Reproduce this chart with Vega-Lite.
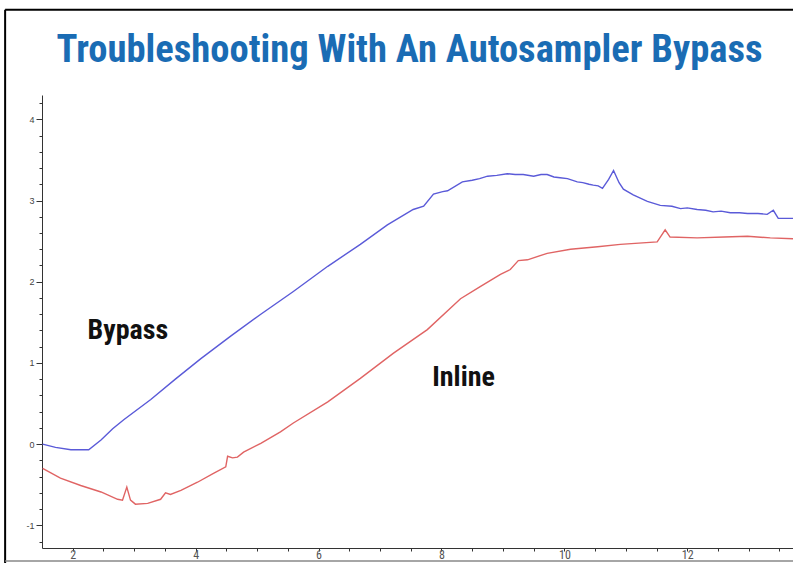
{
  "$schema": "https://vega.github.io/schema/vega-lite/v6.json",
  "width": 751,
  "height": 453,
  "autosize": {"type": "none"},
  "padding": {"left": 42, "top": 95, "right": 0, "bottom": 15},
  "background": "white",
  "config": {
    "view": {"stroke": null},
    "axis": {"grid": false, "domainColor": "#333", "tickColor": "#333", "labelColor": "#444", "labelFont": "Liberation Sans", "labelFontSize": 9, "title": null}
  },
  "title": {
    "text": "Troubleshooting With An Autosampler Bypass",
    "font": "Roboto Condensed",
    "fontWeight": "bold",
    "fontSize": 38.6,
    "color": "#1a6cb4",
    "anchor": "middle",
    "baseline": "alphabetic",
    "dx": -8,
    "offset": -92
  },
  "datasets": {
    "traces": [
      {"series": "Bypass", "time": 1.51, "value": 0.0},
      {"series": "Bypass", "time": 1.72, "value": -0.04},
      {"series": "Bypass", "time": 1.97, "value": -0.07},
      {"series": "Bypass", "time": 2.26, "value": -0.07},
      {"series": "Bypass", "time": 2.46, "value": 0.05},
      {"series": "Bypass", "time": 2.65, "value": 0.19},
      {"series": "Bypass", "time": 2.83, "value": 0.3},
      {"series": "Bypass", "time": 3.27, "value": 0.55},
      {"series": "Bypass", "time": 3.67, "value": 0.8},
      {"series": "Bypass", "time": 4.08, "value": 1.05},
      {"series": "Bypass", "time": 4.57, "value": 1.33},
      {"series": "Bypass", "time": 5.06, "value": 1.6},
      {"series": "Bypass", "time": 5.59, "value": 1.88},
      {"series": "Bypass", "time": 6.15, "value": 2.19},
      {"series": "Bypass", "time": 6.68, "value": 2.46},
      {"series": "Bypass", "time": 7.12, "value": 2.7},
      {"series": "Bypass", "time": 7.54, "value": 2.89},
      {"series": "Bypass", "time": 7.71, "value": 2.93},
      {"series": "Bypass", "time": 7.87, "value": 3.08},
      {"series": "Bypass", "time": 8.02, "value": 3.11},
      {"series": "Bypass", "time": 8.1, "value": 3.12},
      {"series": "Bypass", "time": 8.34, "value": 3.23},
      {"series": "Bypass", "time": 8.5, "value": 3.25},
      {"series": "Bypass", "time": 8.62, "value": 3.27},
      {"series": "Bypass", "time": 8.75, "value": 3.3},
      {"series": "Bypass", "time": 8.9, "value": 3.31},
      {"series": "Bypass", "time": 9.07, "value": 3.33},
      {"series": "Bypass", "time": 9.2, "value": 3.32},
      {"series": "Bypass", "time": 9.33, "value": 3.32},
      {"series": "Bypass", "time": 9.5, "value": 3.3},
      {"series": "Bypass", "time": 9.62, "value": 3.32},
      {"series": "Bypass", "time": 9.72, "value": 3.32},
      {"series": "Bypass", "time": 9.83, "value": 3.29},
      {"series": "Bypass", "time": 9.93, "value": 3.28},
      {"series": "Bypass", "time": 10.05, "value": 3.27},
      {"series": "Bypass", "time": 10.21, "value": 3.23},
      {"series": "Bypass", "time": 10.3, "value": 3.22},
      {"series": "Bypass", "time": 10.4, "value": 3.2},
      {"series": "Bypass", "time": 10.47, "value": 3.19},
      {"series": "Bypass", "time": 10.55, "value": 3.18},
      {"series": "Bypass", "time": 10.62, "value": 3.15},
      {"series": "Bypass", "time": 10.72, "value": 3.26},
      {"series": "Bypass", "time": 10.8, "value": 3.37},
      {"series": "Bypass", "time": 10.89, "value": 3.22},
      {"series": "Bypass", "time": 10.96, "value": 3.14},
      {"series": "Bypass", "time": 11.12, "value": 3.07},
      {"series": "Bypass", "time": 11.35, "value": 2.99},
      {"series": "Bypass", "time": 11.56, "value": 2.94},
      {"series": "Bypass", "time": 11.75, "value": 2.93},
      {"series": "Bypass", "time": 11.89, "value": 2.9},
      {"series": "Bypass", "time": 12.0, "value": 2.91},
      {"series": "Bypass", "time": 12.16, "value": 2.89},
      {"series": "Bypass", "time": 12.3, "value": 2.88},
      {"series": "Bypass", "time": 12.42, "value": 2.86},
      {"series": "Bypass", "time": 12.55, "value": 2.87},
      {"series": "Bypass", "time": 12.7, "value": 2.85},
      {"series": "Bypass", "time": 12.85, "value": 2.85},
      {"series": "Bypass", "time": 12.98, "value": 2.84},
      {"series": "Bypass", "time": 13.15, "value": 2.84},
      {"series": "Bypass", "time": 13.3, "value": 2.83},
      {"series": "Bypass", "time": 13.4, "value": 2.88},
      {"series": "Bypass", "time": 13.48, "value": 2.78},
      {"series": "Bypass", "time": 13.72, "value": 2.78},
      {"series": "Inline", "time": 1.51, "value": -0.3},
      {"series": "Inline", "time": 1.8, "value": -0.42},
      {"series": "Inline", "time": 2.13, "value": -0.51},
      {"series": "Inline", "time": 2.46, "value": -0.59},
      {"series": "Inline", "time": 2.73, "value": -0.68},
      {"series": "Inline", "time": 2.81, "value": -0.69},
      {"series": "Inline", "time": 2.88, "value": -0.53},
      {"series": "Inline", "time": 2.94, "value": -0.69},
      {"series": "Inline", "time": 3.02, "value": -0.74},
      {"series": "Inline", "time": 3.22, "value": -0.73},
      {"series": "Inline", "time": 3.43, "value": -0.68},
      {"series": "Inline", "time": 3.51, "value": -0.6},
      {"series": "Inline", "time": 3.59, "value": -0.62},
      {"series": "Inline", "time": 3.76, "value": -0.57},
      {"series": "Inline", "time": 4.03, "value": -0.47},
      {"series": "Inline", "time": 4.29, "value": -0.36},
      {"series": "Inline", "time": 4.49, "value": -0.28},
      {"series": "Inline", "time": 4.52, "value": -0.15},
      {"series": "Inline", "time": 4.6, "value": -0.17},
      {"series": "Inline", "time": 4.68, "value": -0.16},
      {"series": "Inline", "time": 4.78, "value": -0.1},
      {"series": "Inline", "time": 5.06, "value": 0.01},
      {"series": "Inline", "time": 5.38, "value": 0.15},
      {"series": "Inline", "time": 5.59, "value": 0.26},
      {"series": "Inline", "time": 6.15, "value": 0.52},
      {"series": "Inline", "time": 6.68, "value": 0.81},
      {"series": "Inline", "time": 7.22, "value": 1.12},
      {"series": "Inline", "time": 7.77, "value": 1.41},
      {"series": "Inline", "time": 8.31, "value": 1.79},
      {"series": "Inline", "time": 8.63, "value": 1.94},
      {"series": "Inline", "time": 8.96, "value": 2.09},
      {"series": "Inline", "time": 9.12, "value": 2.15},
      {"series": "Inline", "time": 9.25, "value": 2.26},
      {"series": "Inline", "time": 9.4, "value": 2.27},
      {"series": "Inline", "time": 9.72, "value": 2.35},
      {"series": "Inline", "time": 10.1, "value": 2.4},
      {"series": "Inline", "time": 10.54, "value": 2.43},
      {"series": "Inline", "time": 10.91, "value": 2.46},
      {"series": "Inline", "time": 11.51, "value": 2.49},
      {"series": "Inline", "time": 11.58, "value": 2.57},
      {"series": "Inline", "time": 11.64, "value": 2.64},
      {"series": "Inline", "time": 11.72, "value": 2.55},
      {"series": "Inline", "time": 12.16, "value": 2.54},
      {"series": "Inline", "time": 12.6, "value": 2.55},
      {"series": "Inline", "time": 12.98, "value": 2.56},
      {"series": "Inline", "time": 13.35, "value": 2.54},
      {"series": "Inline", "time": 13.72, "value": 2.53}
    ],
    "labels": [
      {"time": 2.24, "value": 1.3, "label": "Bypass"},
      {"time": 7.85, "value": 0.71, "label": "Inline"}
    ]
  },
  "layer": [
    {
      "data": {"name": "traces"},
      "mark": {"type": "line", "strokeWidth": 1.4},
      "encoding": {
        "x": {
          "field": "time", "type": "quantitative",
          "scale": {"domain": [1.5, 13.72], "nice": false, "zero": false},
          "axis": {
            "values": [2, 2.5, 3, 3.5, 4, 4.5, 5, 5.5, 6, 6.5, 7, 7.5, 8, 8.5, 9, 9.5, 10, 10.5, 11, 11.5, 12, 12.5, 13, 13.5],
            "tickCount": 200,
            "labelExpr": "datum.value % 2 === 0 ? '' + datum.value : ''",
            "labelFont": "Roboto Condensed", "labelFontSize": 12, "labelColor": "#555",
            "tickSize": 3, "labelPadding": -2, "labelFlush": false, "labelOverlap": false
          }
        },
        "y": {
          "field": "value", "type": "quantitative",
          "scale": {"domain": [-1.28, 4.3], "nice": false, "zero": false},
          "axis": {
            "values": [-1.2, -1, -0.8, -0.6, -0.4, -0.2, 0, 0.2, 0.4, 0.6, 0.8, 1, 1.2, 1.4, 1.6, 1.8, 2, 2.2, 2.4, 2.6, 2.8, 3, 3.2, 3.4, 3.6, 3.8, 4, 4.2],
            "tickCount": 200,
            "labelExpr": "abs(datum.value - round(datum.value)) < 0.001 ? '' + round(datum.value) : ''",
            "tickSize": {"condition": {"test": "abs(datum.value - round(datum.value)) < 0.001", "value": 6}, "value": 3},
            "labelPadding": 2, "labelFlush": false, "labelOverlap": false
          }
        },
        "color": {
          "field": "series", "type": "nominal",
          "scale": {"domain": ["Bypass", "Inline"], "range": ["#5a5ad8", "#e06464"]},
          "legend": null
        }
      }
    },
    {
      "data": {"name": "labels"},
      "mark": {"type": "text", "align": "left", "baseline": "alphabetic", "font": "Roboto Condensed", "fontWeight": "bold", "fontSize": 28, "color": "#111"},
      "encoding": {
        "x": {"field": "time", "type": "quantitative"},
        "y": {"field": "value", "type": "quantitative"},
        "text": {"field": "label", "type": "nominal"}
      }
    },
    {
      "data": {"values": [{}]},
      "mark": {"type": "rule", "color": "#000", "strokeWidth": 2},
      "encoding": {
        "x": {"datum": 0.9, "type": "quantitative"},
        "y": {"datum": 5.35, "type": "quantitative"},
        "y2": {"datum": -1.5}
      }
    },
    {
      "data": {"values": [{}]},
      "mark": {"type": "rule", "color": "#000", "strokeWidth": 2},
      "encoding": {
        "x": {"datum": 0.9, "type": "quantitative"},
        "x2": {"datum": 14.0},
        "y": {"datum": 5.35, "type": "quantitative"}
      }
    },
    {
      "data": {"values": [{}]},
      "mark": {"type": "rule", "color": "#888", "strokeWidth": 1.5},
      "encoding": {
        "x": {"datum": 0.9, "type": "quantitative"},
        "x2": {"datum": 14.0},
        "y": {"datum": -1.44, "type": "quantitative"}
      }
    }
  ]
}
